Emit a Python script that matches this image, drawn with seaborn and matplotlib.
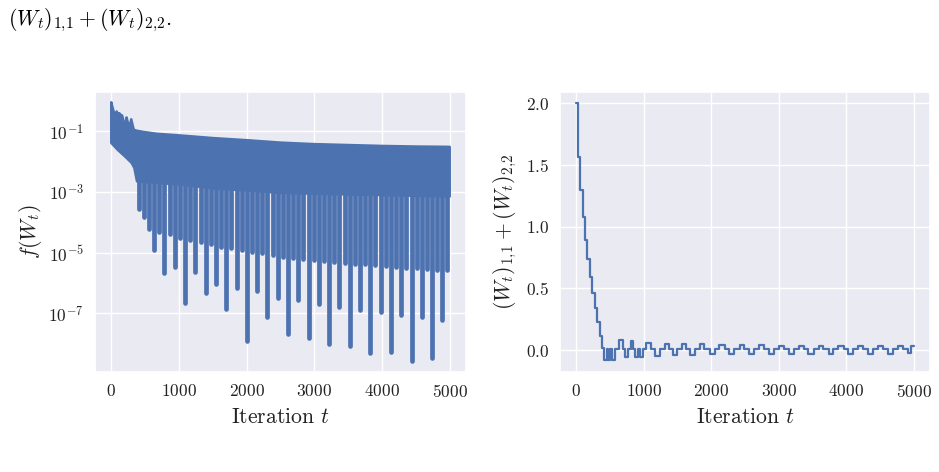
import numpy as np
import matplotlib
matplotlib.use("Agg")
import matplotlib.pyplot as plt
import seaborn as sns

# ---------------- left panel: f(W_t), log10 values
upper_t = [0, 15, 29, 49, 64, 79, 98, 118, 138, 162, 187, 211, 226, 246, 275, 295,
           314, 334, 383, 481, 678, 1000, 1500, 2000, 2500, 3000, 3500, 4000, 4500, 4999]
upper_log = [-0.04, -0.18, -0.29, -0.45, -0.50, -0.34, -0.45, -0.40, -0.45, -0.48,
             -0.73, -0.73, -0.54, -0.73, -0.78, -0.60, -0.78, -0.95, -0.98, -1.02,
             -1.08, -1.13, -1.22, -1.29, -1.37, -1.42, -1.45, -1.48, -1.50, -1.51]
lower_t = [0, 100, 200, 300, 340, 380, 600, 1000, 1500, 2000, 2500, 3500, 4999]
lower_log = [-1.38, -1.62, -1.82, -2.04, -2.20, -2.65, -2.69, -2.75, -2.88, -2.95,
             -3.03, -3.08, -3.15]
teeth_t = [406, 558, 710, 862, 1014, 1166, 1318, 1470, 1622, 1774, 1926, 2078, 2230,
           2382, 2534, 2686, 2838, 2990, 3142, 3294, 3446, 3598, 3750, 3902, 4054,
           4206, 4358, 4510, 4662, 4814, 4966]
teeth_log = [-3.57, -4.22, -4.33, -4.39, -4.52, -4.58, -4.65, -4.72, -4.80, -4.86,
             -4.92, -4.97, -5.02, -5.08, -5.13, -5.19, -5.22, -5.24, -5.27, -5.30,
             -5.33, -5.36, -5.39, -5.42, -5.45, -5.48, -5.50, -5.52, -5.54, -5.56, -5.57]
dip_t = [482, 634, 786, 938, 1090, 1243, 1395, 1547, 1699, 1851, 2003, 2155, 2307,
         2459, 2611, 2763, 2915, 3067, 3219, 3371, 3523, 3675, 3827, 3979, 4131,
         4283, 4435, 4587, 4739, 4891]
dip_log = [-3.82, -4.93, -5.67, -5.47, -6.67, -5.64, -6.33, -6.03, -6.86, -6.17,
           -7.91, -6.28, -7.11, -6.50, -7.69, -6.58, -7.81, -6.69, -8.02, -6.80,
           -8.09, -6.89, -8.31, -6.97, -8.29, -7.07, -8.59, -7.12, -8.47, -7.22]
spike_start = 1e-2

# ---------------- right panel: (W_t)_{1,1} + (W_t)_{2,2}, step trace
trace_t = [0, 25, 59, 93, 133, 157, 206, 241, 275, 314, 349, 388,
           418, 452, 477, 501, 526, 575, 639, 688, 722, 771, 806, 835, 870, 919, 943,
           993, 1032, 1115, 1165, 1238, 1312, 1376, 1430, 1500, 1560, 1620, 1680,
           1760, 1830, 1900, 1980, 2050, 2120, 2200, 2270, 2340, 2420, 2490, 2560,
           2640, 2710, 2780, 2860, 2930, 3000, 3080, 3150, 3220, 3300, 3370, 3440,
           3520, 3590, 3660, 3740, 3810, 3880, 3960, 4030, 4100, 4180, 4250, 4320,
           4400, 4470, 4540, 4620, 4690, 4760, 4840, 4910, 4960, 4999]
trace_v = [2.0, 1.568, 1.297, 1.076, 0.892, 0.735, 0.589, 0.459, 0.338, 0.224, 0.114, 0.014,
           -0.081, 0.005, -0.081, 0.005, -0.081, 0.005, 0.080, 0.005, -0.060, 0.005, 0.070,
           0.005, -0.060, 0.005, -0.060, 0.005, 0.060, 0.005, -0.050, 0.005, 0.050, 0.005,
           -0.040, 0.005, 0.045, 0.005, -0.040, 0.005, 0.045, 0.005, -0.035, 0.005, 0.040,
           0.005, -0.035, 0.005, 0.040, 0.005, -0.030, 0.005, 0.040, 0.005, -0.030, 0.005,
           0.035, 0.005, -0.030, 0.005, 0.035, 0.005, -0.030, 0.005, 0.030, 0.005, -0.030,
           0.005, 0.030, 0.005, -0.030, 0.005, 0.030, 0.005, -0.030, 0.005, 0.030, 0.005,
           -0.030, 0.005, 0.030, 0.005, -0.025, 0.030, 0.030]

x_ticks = [0, 1000, 2000, 3000, 4000, 5000]

# ---------------- style
sns.set_theme(style="darkgrid")
plt.rcParams["font.family"] = ["cmr10", "DejaVu Serif"]
plt.rcParams["mathtext.fontset"] = "cm"
plt.rcParams["axes.formatter.use_mathtext"] = True
plt.rcParams["axes.unicode_minus"] = False
blue = sns.color_palette()[0]

fig = plt.figure(figsize=(9.39, 4.72), dpi=100)
ax1 = fig.add_axes([0.1012, 0.2119, 0.3951, 0.5932])
ax2 = fig.add_axes([0.5964, 0.2119, 0.394, 0.5932])

# left panel
up = 10.0 ** np.array(upper_log)
lo = 10.0 ** np.array(lower_log)
poly_x = np.concatenate([upper_t, lower_t[::-1]])
poly_y = np.concatenate([up, lo[::-1]])
ax1.fill(poly_x, poly_y, color=blue, lw=1.8, ec=blue, joinstyle="round")
ax1.vlines(teeth_t, 10.0 ** np.array(teeth_log), spike_start, color=blue, lw=3.4,
           capstyle="round")
ax1.vlines(dip_t, 10.0 ** np.array(dip_log), spike_start, color=blue, lw=3.4,
           capstyle="round")
ax1.set_yscale("log")
ax1.set_xlim(-240, 5240)
ax1.set_ylim(10 ** -8.94, 10 ** 0.30)
ax1.set_yticks([1e-1, 1e-3, 1e-5, 1e-7])
ax1.minorticks_off()
ax1.set_xticks(x_ticks)
ax1.set_xlabel(r"Iteration $t$", fontsize=15.6, labelpad=5)
ax1.set_ylabel(r"$f(W_t)$", fontsize=15.6, labelpad=3)

# right panel
sns.lineplot(x=trace_t, y=trace_v, ax=ax2, color=blue, lw=1.6, drawstyle="steps-post",
             estimator=None, sort=False)
ax2.set_xlim(-240, 5240)
ax2.set_ylim(-0.178, 2.092)
ax2.set_xticks(x_ticks)
ax2.set_yticks([0.0, 0.5, 1.0, 1.5, 2.0])
ax2.set_xlabel(r"Iteration $t$", fontsize=15.6, labelpad=5)
ax2.set_ylabel(r"$(W_t)_{1,\!1} + (W_t)_{2,\!2}$", fontsize=15.6, labelpad=5)

for ax in (ax1, ax2):
    ax.tick_params(length=0, pad=8, labelsize=12.5, colors="#222222")
    ax.xaxis.label.set_color("#222222")
    ax.yaxis.label.set_color("#222222")

fig.text(0.009, 1 - 25 / 472, r"$(W_t)_{1,\!1} + (W_t)_{2,\!2}$.", fontsize=15.7,
         va="baseline", ha="left", color="black")

fig.savefig("out.png", dpi=100)
